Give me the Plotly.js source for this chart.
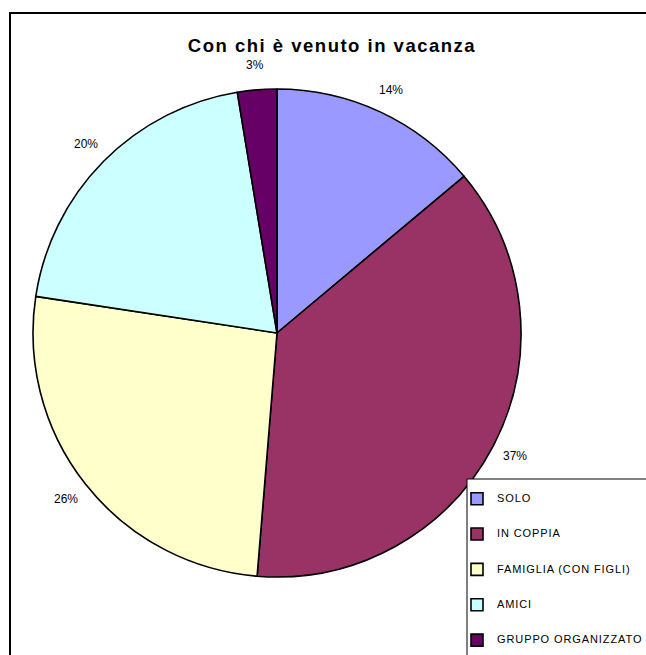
<!DOCTYPE html>
<html>
<head>
<meta charset="utf-8">
<script src="https://cdn.plot.ly/plotly-3.0.1.min.js"></script>
<style>
html,body{margin:0;padding:0;background:#fff;}
#chart{width:646px;height:655px;}
.gtitle{letter-spacing:1.5px;}
.legendtext{letter-spacing:0.9px;}
</style>
</head>
<body>
<div id="chart"></div>
<script>
const categories = ["SOLO", "IN COPPIA", "FAMIGLIA (CON FIGLI)", "AMICI", "GRUPPO ORGANIZZATO"];
const values = [13.9, 37.4, 26.1, 20.0, 2.6];
const colors = ["#9999FF", "#993366", "#FFFFCC", "#CCFFFF", "#660066"];

const W = 646, H = 655;
const cx = 277, cy = 333, r = 244;
const labelR = r * 1.1;

// legend labels padded with blank lines to reproduce the wide item spacing
const legendLabels = categories.map(c =>
  "&nbsp;<br><span style=\"font-size:11px\">" + c + "</span><br>&nbsp;");

const trace = {
  type: "pie",
  labels: legendLabels,
  values: values,
  sort: false,
  direction: "clockwise",
  rotation: 0,
  marker: { colors: colors, line: { color: "#000000", width: 1.6 } },
  textinfo: "none",
  hoverinfo: "percent",
  domain: { x: [(cx - r) / W, (cx + r) / W], y: [1 - (cy + r) / H, 1 - (cy - r) / H] }
};

// percentage labels placed outside each slice at its mid-angle
const total = values.reduce((a, b) => a + b, 0);
let cum = 0;
const annotations = values.map(v => {
  const mid = (cum + v / 2) / total * 2 * Math.PI;
  cum += v;
  const px = cx + labelR * Math.sin(mid);
  const py = cy - labelR * Math.cos(mid);
  return {
    xref: "paper", yref: "paper",
    x: px / W, y: 1 - py / H,
    xanchor: "center", yanchor: "middle",
    text: Math.round(v / total * 100) + "%",
    showarrow: false,
    font: { family: "Liberation Sans, Arial, sans-serif", size: 12, color: "#000" }
  };
});

const layout = {
  width: W, height: H,
  margin: { l: 0, r: 0, t: 0, b: 0, autoexpand: false },
  paper_bgcolor: "#fff",
  font: { family: "Liberation Sans, Arial, sans-serif", color: "#000" },
  title: {
    text: "<b>Con chi è venuto in vacanza</b>",
    font: { family: "Liberation Sans, Arial, sans-serif", size: 18.5, color: "#000" },
    x: 332 / W, xanchor: "center", y: 1 - 46 / H, yanchor: "middle"
  },
  showlegend: true,
  legend: {
    x: 457 / W, xanchor: "left", y: 1 - 476 / H, yanchor: "top",
    bgcolor: "rgba(0,0,0,0)", borderwidth: 0,
    font: { family: "Liberation Sans, Arial, sans-serif", size: 8.3, color: "#000" },
    valign: "middle", traceorder: "normal"
  },
  annotations: annotations,
  shapes: [
    { type: "rect", xref: "paper", yref: "paper", x0: 10 / W, x1: 1.02, y0: -0.02, y1: 1 - 13 / H,
      line: { color: "#000", width: 2 }, fillcolor: "rgba(0,0,0,0)", layer: "below" },
    { type: "rect", xref: "paper", yref: "paper", x0: 467 / W, x1: 1.02, y0: -0.02, y1: 1 - 479 / H,
      line: { color: "#000", width: 1 }, fillcolor: "#fff", layer: "above" }
  ]
};

Plotly.newPlot("chart", [trace], layout, { displayModeBar: false, staticPlot: true });
</script>
</body>
</html>
